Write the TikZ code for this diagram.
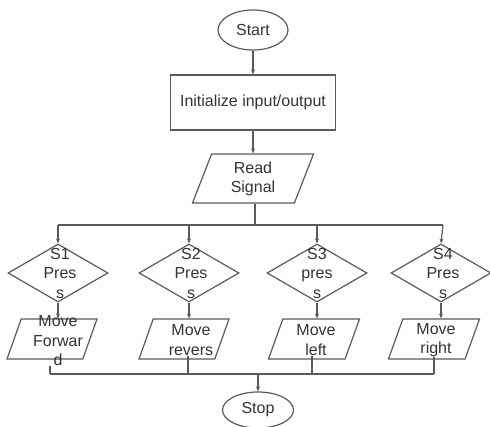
\documentclass[tikz,border=0pt]{standalone}
\usepackage{fontspec}
\setmainfont{Liberation Sans}
\usetikzlibrary{shapes.geometric,arrows.meta}
\definecolor{ln}{HTML}{5A5A5A}
\definecolor{tx}{HTML}{333333}
\begin{document}
\begin{tikzpicture}[x=1pt,y=-1pt,
  every node/.style={text=tx,font=\fontsize{16}{19.5}\selectfont},
  shp/.style={draw=ln,line width=1.2pt,inner sep=0pt},
  term/.style={shp,ellipse,minimum width=70pt,minimum height=40pt},
  procbox/.style={shp,rectangle,minimum width=165pt,minimum height=55pt},
  iobox/.style={shp,trapezium,trapezium left angle=77,trapezium right angle=103,trapezium stretches=true,inner sep=2pt},
  dec/.style={shp,diamond,minimum width=100pt,minimum height=58pt},
  lbl/.style={align=center,inner sep=0pt},
  conn/.style={draw=ln,line width=1.2pt},
  arr/.style={conn,-{Stealth[length=5pt,width=4pt]}}]
\useasboundingbox (0,0) rectangle (490,427);
\node[term] (start) at (253,30) {Start};
\node[procbox] (init) at (253,102.5) {Initialize input/output};
\node[iobox,minimum width=121pt,minimum height=49pt] (read) at (253,178.5) {};
\node[lbl] (readt) at (253,179) {Read\\Signal};
% decisions
\node[dec] (d1) at (58,273) {};
\node[dec] (d2) at (189,273) {};
\node[dec] (d3) at (317,273) {};
\node[dec] (d4) at (441,273) {};
\node[lbl] (t1) at (60,273) {S1\\Pres\\s};
\node[lbl] (t2) at (191,273) {S2\\Pres\\s};
\node[lbl] (t3) at (317,273) {S3\\pres\\s};
\node[lbl] (t4) at (443,273) {S4\\Pres\\s};
% outputs
\node[iobox,minimum width=90pt,minimum height=40pt] (b1) at (52,339) {};
\node[iobox,minimum width=90pt,minimum height=40pt] (b2) at (184,339) {};
\node[iobox,minimum width=91pt,minimum height=40pt] (b3) at (314,339) {};
\node[iobox,minimum width=91pt,minimum height=40pt] (b4) at (434,339) {};
\node[lbl] (m1) at (58,341) {Move\\Forwar\\d};
\node[lbl] (m2) at (191,340) {Move\\revers};
\node[lbl] (m3) at (316,340) {Move\\left};
\node[lbl] (m4) at (436,340) {Move\\right};
\node[term,minimum width=71pt,minimum height=36pt] (stop) at (258,410) {Stop};
% coordinates
\coordinate (j0) at (255,225);
\coordinate (jl) at (58,225);
\coordinate (jr) at (443,225);
\coordinate (k1) at (50,374);
\coordinate (k4) at (434,374);
\coordinate (ks) at (258,374);
% connectors
\draw[arr] (start) -- (init);
\draw[arr] (init) -- (read);
\draw[conn] (read.south -| j0) -- (j0);
\draw[conn] (jl) -- (jr);
\draw[arr] (jl) -- (d1.north);
\draw[arr] (d2.north |- j0) -- (d2.north);
\draw[arr] (d3.north |- j0) -- (d3.north);
\draw[arr] (jr) -- (d4.north);
\draw[arr] (d1.south) -- (d1.south |- b1.north);
\draw[arr] (d2.south) -- (d2.south |- b2.north);
\draw[arr] (d3.south) -- (d3.south |- b3.north);
\draw[arr] (d4.south) -- (d4.south |- b4.north);
\draw[conn] (k1 |- m1.south) -- (k1);
\draw[conn] (m2.south -| 188,0) -- (188,374);
\draw[conn] (m3.south -| 312,0) -- (312,374);
\draw[conn] (k4 |- m4.south) -- (k4);
\draw[conn] (k1) -- (k4);
\draw[arr] (ks) -- (stop);
\end{tikzpicture}
\end{document}
